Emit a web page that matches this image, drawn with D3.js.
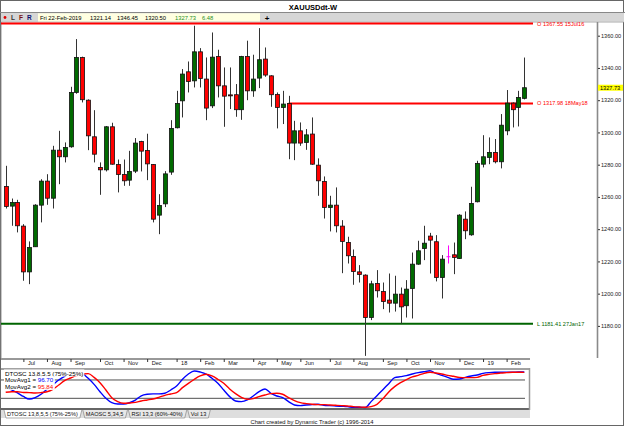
<!DOCTYPE html>
<html><head><meta charset="utf-8">
<script src="https://cdn.jsdelivr.net/npm/d3@7"></script>
<style>body{margin:0;background:#fff}svg{display:block;font-family:"Liberation Sans",Arial,sans-serif}</style>
</head><body>
<svg id="c" width="625" height="427"></svg>
<script>
// ---- data ----
const firstWeek = "2017-06-16"; // Friday of first weekly bar
const openP  = [1266.5,1254.3,1256.6,1241.9,1213.5,1229.1,1254.9,1269.8,1259.2,1289.0,1284.9,1291.1,1324.8,1346.5,1320.0,1297.3,1278.3,1276.8,1303.5,1280.1,1273.9,1270.4,1276.0,1294.4,1288.8,1280.1,1248.7,1255.7,1275.4,1302.9,1319.6,1337.6,1332.0,1350.0,1333.1,1316.5,1347.1,1328.9,1323.3,1323.4,1314.1,1347.1,1325.8,1333.7,1345.5,1335.1,1323.6,1315.5,1317.98,1293.4,1301.0,1293.8,1299.0,1279.7,1269.6,1253.5,1254.9,1241.9,1231.7,1223.1,1213.5,1211.5,1185.2,1206.3,1201.3,1196.0,1194.1,1199.7,1192.5,1203.2,1218.3,1228.0,1235.7,1232.2,1210.0,1222.9,1224.1,1221.8,1246.2,1236.5,1257.0,1280.3,1284.5,1287.6,1281.8,1301.0,1318.2,1315.5,1321.14];
const highP  = [1279.3,1259.0,1258.2,1243.1,1232.4,1255.5,1271.0,1274.1,1291.7,1301.0,1293.8,1328.3,1357.9,1347.0,1320.5,1313.8,1281.4,1304.0,1306.0,1283.2,1283.2,1288.6,1296.5,1294.8,1299.2,1280.4,1261.7,1276.0,1307.6,1325.8,1339.3,1344.0,1366.2,1352.3,1346.5,1362.0,1351.3,1340.3,1340.3,1330.0,1347.5,1356.9,1348.2,1364.7,1352.7,1335.5,1324.8,1325.8,1322.7,1307.2,1306.2,1302.1,1309.3,1283.9,1272.7,1260.7,1265.9,1245.6,1235.3,1227.4,1217.7,1212.0,1208.0,1214.6,1206.9,1212.5,1211.1,1203.8,1208.4,1225.5,1232.8,1242.1,1237.7,1236.3,1223.9,1229.9,1231.7,1249.3,1251.0,1266.3,1282.4,1298.3,1296.9,1295.9,1311.4,1326.3,1318.6,1325.8,1346.45];
const lowP   = [1252.8,1242.1,1238.0,1208.0,1205.9,1229.0,1244.2,1255.1,1252.8,1267.9,1281.4,1290.5,1324.0,1318.6,1289.0,1281.4,1261.3,1275.8,1280.0,1262.8,1266.9,1266.9,1274.8,1275.8,1270.4,1244.2,1236.9,1253.7,1273.7,1302.5,1309.3,1324.8,1327.9,1327.9,1307.6,1315.1,1321.7,1303.5,1314.5,1309.7,1307.8,1320.0,1322.1,1327.5,1334.5,1315.9,1302.5,1305.2,1283.4,1282.8,1291.7,1289.2,1279.9,1260.7,1246.6,1238.6,1238.0,1212.7,1218.7,1205.5,1206.9,1161.4,1183.6,1197.6,1190.4,1188.3,1188.9,1181.41,1185.2,1184.6,1217.9,1220.8,1212.5,1207.6,1197.0,1218.7,1212.1,1221.5,1233.8,1235.9,1256.6,1278.3,1280.3,1280.8,1277.7,1298.3,1303.1,1303.7,1320.50];
const closeP = [1254.1,1256.6,1242.1,1213.5,1228.6,1254.9,1269.8,1259.2,1289.0,1284.9,1290.7,1324.8,1346.5,1320.3,1297.9,1286.5,1276.8,1303.5,1280.3,1273.9,1270.0,1275.8,1293.4,1288.4,1280.5,1246.2,1254.7,1274.3,1302.5,1318.0,1336.2,1331.6,1350.0,1333.5,1315.1,1346.7,1328.9,1322.5,1323.0,1314.1,1347.1,1325.8,1333.1,1345.1,1335.6,1323.4,1315.5,1317.6,1293.4,1301.0,1293.4,1298.5,1280.3,1270.0,1253.5,1254.9,1242.1,1232.4,1223.5,1213.7,1211.9,1185.2,1206.1,1201.8,1195.1,1194.1,1199.7,1191.8,1202.8,1218.3,1226.6,1231.3,1233.2,1210.0,1221.4,1222.9,1222.4,1248.7,1239.0,1255.9,1280.8,1284.9,1287.6,1281.8,1304.5,1318.2,1314.1,1321.7,1327.73];
const movAvg1 = [55,48,40,30,23,27,36,50,62,75,85,94,99,93,79.5,63,43,25,13,9.6,9.6,13,20,32,36,37,37,38.7,47.7,58.6,76.8,91.3,99.5,96.8,91.3,79.5,66,47.7,29.6,17.8,16,20.5,31.4,43,50.5,38.7,31.4,26.9,16,6.9,5,6.9,7.8,8.7,6,5,4.2,3.3,2.3,0.5,0.5,0,16,32.3,48.6,65,81.3,84,86.8,91.3,95,97.7,100,93,87.7,82.2,76.8,77.7,82.2,85.9,88.6,93,95,95.9,95.9,95.9,95.9,96.8,96.7];
const movAvg2 = [41.4,43,43,41,40.5,39.6,40.5,43,49.6,61.4,73.2,80.4,86.8,91.3,92.2,82.2,67.7,47.7,26.9,16,11.4,12.3,14.1,17.8,20.5,23.2,27.8,33.2,36.8,40.5,54.1,65.9,76.8,85.9,90.4,85.9,76.8,65.9,50.5,37.8,27.8,22.3,24.1,29.6,34.1,37.8,38.7,36,26.9,18.7,13.2,10.5,8.7,7.8,7.8,6.9,6,5,4.2,2.4,1.4,0.5,2.4,8.7,24.1,42.3,56.8,67.7,75.9,83.2,87.7,93.1,95.9,94,91.3,87.7,85,82.2,81.3,81.3,82.2,87.7,90.4,92.2,94,95,95.9,95.9,95.84];
const priceTicks = [1180,1200,1220,1240,1260,1280,1300,1320,1340,1360];
const monthLabels = ["","Feb","Mar","Apr","May","Jun","Jul","Aug","Sep","Oct","Nov","Dec"];
const levelValues = [1367.55, 1317.98, 1181.41];
const levelLabels = ["O 1367.55 15Jul16", "O 1317.98 18May18", "L 1181.41 27Jan17"];
const levelStartIdx = [null, 48, null];
const levelColors = ["#ff0000", "#ff0000", "#006400"];
const oscLevels = [75, 25];
const infoItems = ["Fri 22-Feb-2019", "1321.14", "1346.45", "1320.50", "1327.73", "6.48"];
const tabLabels = ["DTOSC 13,8,5,5 (75%-25%)", "MAOSC 5,34,5", "RSI 13,3 (60%-40%)", "Vol 13"];

// ---- setup ----
const svg = d3.select("#c");
const n = closeP.length;
const t0 = new Date(firstWeek + "T12:00:00");
const dates = d3.range(n).map(i => d3.timeDay.offset(t0, 7 * i));

const x = d3.scaleLinear().domain([0, n - 1]).range([5.7, 524.3]);
const y = d3.scaleLinear().domain([1180, 1360]).range([325.9, 35.7]);
const yo = d3.scaleLinear().domain([0, 100]).range([407.5, 370.8]);

// outer frame
svg.append("rect").attr("x", 0.5).attr("y", 0.5).attr("width", 623).attr("height", 425).attr("fill", "#fff").attr("stroke", "#666");

// title
svg.append("text").attr("x", 313).attr("y", 10).attr("text-anchor", "middle").attr("font-size", 7.5).attr("font-weight", "bold").text("XAUUSDdt-W");
svg.append("line").attr("x1", 0).attr("x2", 625).attr("y1", 12.5).attr("y2", 12.5).attr("stroke", "#888");
// toolbar
svg.append("rect").attr("x", 1).attr("y", 13).attr("width", 623).attr("height", 9).attr("fill", "#d6d6d6");
svg.append("circle").attr("cx", 5).attr("cy", 17.5).attr("r", 1.4).attr("fill", "#e00000");
[["L", 11, "#333"], ["F", 19, "#7a1010"], ["R", 27, "#101070"]].forEach(d => {
  svg.append("text").attr("x", d[1]).attr("y", 20).attr("font-size", 6.5).attr("font-weight", "bold").attr("fill", d[2]).text(d[0]);
});
svg.append("rect").attr("x", 38).attr("y", 13.3).attr("width", 222).attr("height", 8.4).attr("fill", "#ffffe1");
const infoX = [40, 90, 117, 145, 175, 202];
infoItems.forEach((s, i) => {
  svg.append("text").attr("x", infoX[i]).attr("y", 20).attr("font-size", 5.8).attr("fill", i >= 4 ? "#1f8f1f" : "#000").text(s);
});
svg.append("text").attr("x", 267).attr("y", 20.5).attr("font-size", 8).attr("font-weight", "bold").attr("text-anchor", "middle").text("+");
svg.append("line").attr("x1", 1).attr("x2", 624).attr("y1", 22.2).attr("y2", 22.2).attr("stroke", "#999").attr("stroke-width", 0.6);

// plot border lines
svg.append("line").attr("x1", 0.8).attr("x2", 0.8).attr("y1", 22).attr("y2", 358).attr("stroke", "#777").attr("stroke-width", 1.2);
svg.append("line").attr("x1", 597.5).attr("x2", 597.5).attr("y1", 22).attr("y2", 358).attr("stroke", "#8a8a8a").attr("stroke-width", 1.6);

// right price axis
const yAxis = d3.axisRight(y).tickValues(priceTicks).tickSize(2).tickPadding(1).tickFormat(d3.format(".2f"));
const ga = svg.append("g").attr("transform", "translate(598,0)").call(yAxis);
ga.select(".domain").remove();
ga.selectAll("text").attr("font-size", 5.6).attr("fill", "#222").attr("font-family", "Liberation Sans, Arial");
ga.selectAll("line").attr("stroke", "#333");

// price levels
levelValues.forEach((v, i) => {
  const x1 = levelStartIdx[i] === null ? 1 : x(levelStartIdx[i]);
  svg.append("line").attr("x1", x1).attr("x2", 533).attr("y1", y(v)).attr("y2", y(v))
    .attr("stroke", levelColors[i]).attr("stroke-width", 2);
  svg.append("text").attr("x", 537).attr("y", y(v) + 2).attr("font-size", 5.6).attr("fill", levelColors[i]).text(levelLabels[i]);
});

// candles
const cg = svg.append("g");
d3.range(n).forEach(i => {
  const cx = Math.round(x(i)) + 0.5;
  const o = openP[i], c = closeP[i];
  cg.append("line").attr("x1", cx).attr("x2", cx).attr("y1", y(highP[i])).attr("y2", y(lowP[i]))
    .attr("stroke", Math.abs(o - c) < 0.05 ? "#ff00ff" : "#333").attr("stroke-width", 1);
  const top = y(Math.max(o, c)), bot = y(Math.min(o, c));
  if (Math.abs(o - c) < 0.05) {
    cg.append("line").attr("x1", cx - 2).attr("x2", cx + 2).attr("y1", top).attr("y2", top).attr("stroke", "#ff00ff");
  } else {
    cg.append("rect").attr("x", cx - 2).attr("y", top).attr("width", 4).attr("height", Math.max(1, bot - top))
      .attr("fill", c > o ? "#006a00" : "#ff0000").attr("stroke", "#111").attr("stroke-width", 0.8);
  }
});

// last price box
svg.append("rect").attr("x", 598).attr("y", y(closeP[n - 1]) - 3).attr("width", 25).attr("height", 6).attr("fill", "#ffff00");
svg.append("text").attr("x", 600).attr("y", y(closeP[n - 1]) + 2).attr("font-size", 5.6).attr("fill", "#000").text(closeP[n - 1].toFixed(2));

// date axis
svg.append("line").attr("x1", 1).attr("x2", 530).attr("y1", 359).attr("y2", 359).attr("stroke", "#333");
const monthIdx = d3.range(1, n).filter(i => dates[i].getMonth() !== dates[i - 1].getMonth());
const xAxis = d3.axisBottom(x).tickValues(monthIdx).tickSize(3).tickFormat(i => {
  const m = dates[i].getMonth();
  return m === 0 ? String(dates[i].getFullYear()).slice(2) : monthLabels[m];
});
const gx = svg.append("g").attr("transform", "translate(0,359)").call(xAxis);
gx.select(".domain").remove();
gx.selectAll("text").attr("text-anchor", "start").attr("dx", 4).attr("dy", -0.5).attr("font-size", 5.6).attr("fill", "#111").attr("font-family", "Liberation Sans, Arial");
gx.selectAll("line").attr("stroke", "#333");

// oscillator panel
svg.append("line").attr("x1", 1).attr("x2", 530).attr("y1", 369).attr("y2", 369).attr("stroke", "#444");
svg.append("line").attr("x1", 1).attr("x2", 530).attr("y1", 409).attr("y2", 409).attr("stroke", "#333").attr("stroke-width", 1.4);
svg.append("line").attr("x1", 529.5).attr("x2", 529.5).attr("y1", 368).attr("y2", 410).attr("stroke", "#999").attr("stroke-width", 1.5);
oscLevels.forEach(v => {
  svg.append("line").attr("x1", 1).attr("x2", 525).attr("y1", yo(v)).attr("y2", yo(v)).attr("stroke", "#222").attr("stroke-width", 0.8);
});
const ln = arr => d3.line().x((d, i) => x(i)).y(d => yo(d)).curve(d3.curveMonotoneX)(arr);
svg.append("path").attr("d", ln(movAvg1)).attr("fill", "none").attr("stroke", "#0000ff").attr("stroke-width", 1.4);
svg.append("path").attr("d", ln(movAvg2)).attr("fill", "none").attr("stroke", "#ff0000").attr("stroke-width", 1.4);

// legend
const legend = [
  [["DTOSC 13,8,5,5 (75%-25%)", "#000"]],
  [["MovAvg1 = ", "#000"], [movAvg1[n - 1].toFixed(2), "#0000ff"]],
  [["MovAvg2 = ", "#000"], [movAvg2[n - 1].toFixed(2), "#ff0000"]]
];
legend.forEach((row, r) => {
  const yy = 375.5 + r * 6.7;
  const g = svg.append("g");
  const bg = g.append("rect").attr("fill", "#fff");
  const t = g.append("text").attr("x", 5).attr("y", yy).attr("font-size", 6.2);
  row.forEach(s => t.append("tspan").attr("fill", s[1]).text(s[0]));
  const bb = t.node().getBBox();
  bg.attr("x", bb.x - 1).attr("y", bb.y).attr("width", bb.width + 2).attr("height", bb.height);
});

// tabs
svg.append("rect").attr("x", 1).attr("y", 410).attr("width", 529).attr("height", 8).attr("fill", "#dedede");
let tx = 4;
tabLabels.forEach((s, i) => {
  const g = svg.append("g");
  const p = g.append("path");
  const t = g.append("text").attr("x", tx + 3).attr("y", 416).attr("font-size", 5.6).attr("fill", "#111").text(s);
  const w = t.node().getComputedTextLength();
  p.attr("d", `M${tx},410 L${tx + 2},418 L${tx + w + 5},418 L${tx + w + 7},410`)
    .attr("fill", i === 0 ? "#fff" : "#e8e8e8").attr("stroke", "#777").attr("stroke-width", 0.6);
  tx += w + 8;
});
svg.append("text").attr("x", 312).attr("y", 424).attr("text-anchor", "middle").attr("font-size", 5.8).attr("fill", "#111").text("Chart created by Dynamic Trader  (c) 1996-2014");
</script>
</body></html>
